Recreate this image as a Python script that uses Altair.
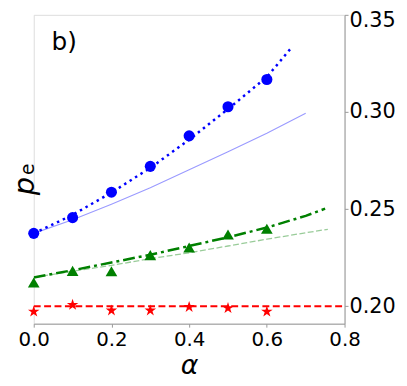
import altair as alt
import pandas as pd

# --- data ---
alpha_pts = [0.0, 0.1, 0.2, 0.3, 0.4, 0.5, 0.6]
blue_pts = [0.2375, 0.2456, 0.2587, 0.2720, 0.2877, 0.3027, 0.3167]
green_pts = [0.2122, 0.2182, 0.2180, 0.2263, 0.2302, 0.2369, 0.2399]
red_pts = [0.1972, 0.2007, 0.1978, 0.1978, 0.1996, 0.1990, 0.1972]

blue_dot_x = [0.0, 0.1, 0.2, 0.3, 0.4, 0.5, 0.6, 0.665]
blue_dot_y = [0.2375, 0.2470, 0.2585, 0.2712, 0.2857, 0.3015, 0.3180, 0.3335]

blue_thin_x = [0.0, 0.1, 0.2, 0.3, 0.4, 0.5, 0.6, 0.7]
blue_thin_y = [0.2375, 0.2445, 0.2525, 0.2610, 0.2703, 0.2795, 0.2890, 0.2993]

green_dd_x = [0.0, 0.1, 0.2, 0.3, 0.4, 0.5, 0.6, 0.7, 0.75]
green_dd_y = [0.2148, 0.2185, 0.2225, 0.2265, 0.2310, 0.2355, 0.2405, 0.2465, 0.2502]

green_thin_x = [0.0, 0.1, 0.2, 0.3, 0.4, 0.5, 0.6, 0.7, 0.757]
green_thin_y = [0.2148, 0.2180, 0.2210, 0.2245, 0.2275, 0.2310, 0.2345, 0.2378, 0.2396]

red_line_x = [0.0, 0.8]
red_line_y = [0.200, 0.200]

x_ticks = [0.0, 0.2, 0.4, 0.6, 0.8]
y_ticks = [0.20, 0.25, 0.30, 0.35]

W, H = 314, 312
xs = alt.Scale(domain=[0, 0.8], nice=False, zero=False)
ys = alt.Scale(domain=[0.191, 0.35], nice=False, zero=False)

xax = alt.Axis(values=x_ticks, format=".1f", title="α", titleFontStyle="italic",
               titleFontSize=27, titleFontWeight="normal", titleColor="black",
               titlePadding=3, labelFontSize=20, labelColor="black", labelPadding=3,
               labelFlush=False, labelOverlap=False,
               tickColor="#999999", tickSize=3.5, domainColor="#999999", grid=False,
               labelFont="DejaVu Sans", titleFont="DejaVu Sans")
yax = alt.Axis(values=y_ticks, format=".2f", orient="right", title=None,
               labelFontSize=21, labelColor="black", labelPadding=1,
               labelFlush=1, labelFlushOffset=5, labelOverlap=False,
               tickColor="#999999", tickSize=3.5, domainColor="#999999", grid=False,
               labelFont="DejaVu Sans")


def line_layer(xv, yv, **kw):
    df = pd.DataFrame({"a": xv, "p": yv})
    return alt.Chart(df).mark_line(clip=True, **kw).encode(
        x=alt.X("a:Q", scale=xs, axis=xax),
        y=alt.Y("p:Q", scale=ys, axis=yax),
    )


def pt_layer(yv, shape, color, size):
    df = pd.DataFrame({"a": alpha_pts, "p": yv})
    return alt.Chart(df).mark_point(shape=shape, filled=True, color=color, size=size,
                                    opacity=1, strokeWidth=0).encode(
        x=alt.X("a:Q", scale=xs, axis=xax),
        y=alt.Y("p:Q", scale=ys, axis=yax),
    )


STAR = ("M0,-1L0.2245,-0.309L0.951,-0.309L0.363,0.118L0.588,0.809L0,0.382"
        "L-0.588,0.809L-0.363,0.118L-0.951,-0.309L-0.2245,-0.309Z")

layers = [
    line_layer(blue_thin_x, blue_thin_y, color="#0000ff", opacity=0.4, strokeWidth=1.1),
    line_layer(green_thin_x, green_thin_y, color="#008000", opacity=0.4, strokeWidth=1.3,
               strokeDash=[6, 2.5]),
    line_layer(blue_dot_x, blue_dot_y, color="#0000ff", strokeWidth=2.5, strokeDash=[2.5, 4],
               strokeCap="butt"),
    line_layer(green_dd_x, green_dd_y, color="#008000", strokeWidth=2.5,
               strokeDash=[12, 4, 3, 4]),
    line_layer(red_line_x, red_line_y, color="#ff0000", strokeWidth=2, strokeDash=[7, 3.5]),
    pt_layer(blue_pts, "circle", "#0000ff", 125),
    pt_layer(green_pts, "triangle-up", "#008000", 140),
    pt_layer(red_pts, STAR, "#ff0000", 150),
]

label_b = alt.Chart(pd.DataFrame({"t": ["b)"]})).mark_text(
    fontSize=25, font="DejaVu Sans", color="black", align="left", baseline="middle"
).encode(x=alt.value(18), y=alt.value(28), text="t:N")

ylab_p = alt.Chart(pd.DataFrame({"t": ["p"]})).mark_text(
    fontSize=29, font="DejaVu Sans", fontStyle="italic", color="black", angle=270,
    align="center", baseline="middle"
).encode(x=alt.value(-9), y=alt.value(173), text="t:N")

ylab_e = alt.Chart(pd.DataFrame({"t": ["e"]})).mark_text(
    fontSize=19, font="DejaVu Sans", color="black", angle=270,
    align="center", baseline="middle"
).encode(x=alt.value(-6), y=alt.value(156), text="t:N")

chart = alt.layer(*layers, label_b, ylab_p, ylab_e).properties(
    width=W, height=H,
    autosize=alt.AutoSizeParams(type="none"),
    padding={"left": 26, "top": 5, "right": 55, "bottom": 58},
).configure_view(stroke="#999999", strokeWidth=1.2).configure(background="white")

chart.save("out.html", embed_options={"renderer": "svg", "actions": False})
